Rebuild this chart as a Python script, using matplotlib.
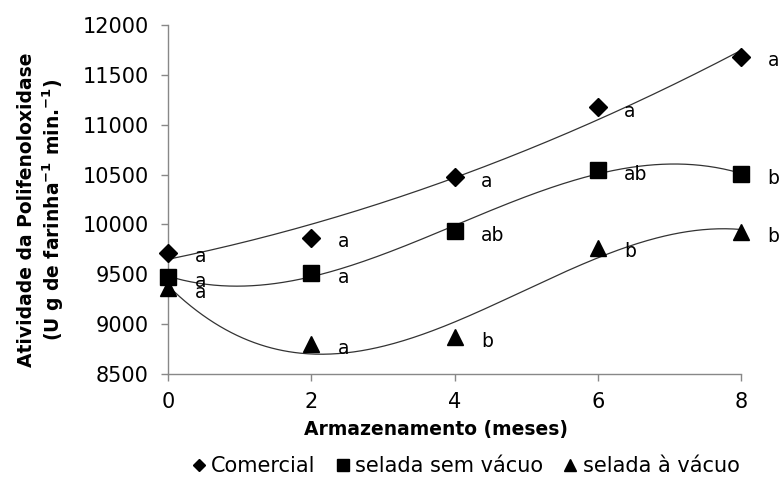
import numpy as np
import matplotlib
matplotlib.use("Agg")
import matplotlib.pyplot as plt

plt.rcParams['font.family'] = ['DejaVu Sans']
plt.rcParams['mathtext.fontset'] = 'dejavusans'

months = [0, 2, 4, 6, 8]
comercial = [9716, 9867, 10476, 11173, 11682]
sem_vacuo = [9472, 9512, 9934, 10543, 10503]
a_vacuo = [9360, 8802, 8869, 9766, 9924]

lab_comercial = ['a', 'a', 'a', 'a', 'a']
lab_sem_vacuo = ['a', 'a', 'ab', 'ab', 'b']
lab_a_vacuo = ['a', 'a', 'b', 'b', 'b']

series_names = ['Comercial', 'selada sem vácuo', 'selada à vácuo']
xticks = [0, 2, 4, 6, 8]
yticks = [8500, 9000, 9500, 10000, 10500, 11000, 11500, 12000]

fig = plt.figure(figsize=(7.83, 4.79), dpi=100)
ax = fig.add_axes([168/783, 1-374/479, (741-168)/783, (374-25)/479])

# (values, letters, marker, size, trend degree)
series = [
    (comercial, lab_comercial, 'D', 9, 2),
    (sem_vacuo, lab_sem_vacuo, 's', 12, 3),
    (a_vacuo, lab_a_vacuo, '^', 12, 3),
]
xs = np.linspace(0, 8, 300)
handles = []
for (vals, labs, mk, ms, deg), name in zip(series, series_names):
    coef = np.polyfit(months, vals, deg)
    ax.plot(xs, np.polyval(coef, xs), color='#333333', lw=0.9, zorder=2)
    h, = ax.plot(months, vals, linestyle='none', marker=mk, markersize=ms,
                 color='black', zorder=3, clip_on=False, label=name)
    handles.append(h)
    for x, y, t in zip(months, vals, labs):
        ax.annotate(t, (x, y), xytext=(19, -3), textcoords='offset points',
                    fontsize=13.5, ha='left', va='center', color='black')

ax.set_xlim(0, 8)
ax.set_ylim(8500, 12000)
ax.set_xticks(xticks)
ax.set_yticks(yticks)
ax.tick_params(axis='both', labelsize=15, color='#888888', length=5, width=1)
ax.tick_params(axis='y', pad=9)
ax.tick_params(axis='x', pad=8)
for s in ['top', 'right']:
    ax.spines[s].set_visible(False)
for s in ['left', 'bottom']:
    ax.spines[s].set_color('#888888')
    ax.spines[s].set_linewidth(1)

ax.set_xlabel('Armazenamento (meses)', fontsize=13.5, fontweight='bold')
ax.xaxis.set_label_coords(0.468, -0.133)
ax.set_ylabel('Atividade da Polifenoloxidase\n(U g de farinha$^{\\mathbf{-1}}$ min.$^{\\mathbf{-1}}$)',
              fontsize=13.5, fontweight='bold', linespacing=1.25)
ax.yaxis.set_label_coords(-0.178, 0.471)

leg = fig.legend(handles=handles, loc='center', bbox_to_anchor=(466/783, 1-466/479),
                 ncol=3, frameon=False, fontsize=15, handlelength=0.6,
                 handletextpad=0.3, columnspacing=1.0, markerscale=0.7)

fig.savefig('out.png', dpi=100)
